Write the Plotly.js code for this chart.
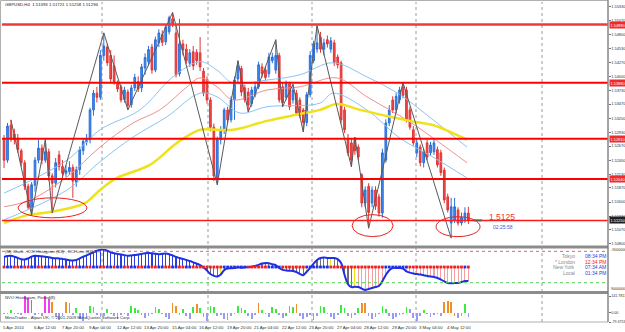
<!DOCTYPE html>
<html><head><meta charset="utf-8">
<script src="https://cdn.plot.ly/plotly-3.0.1.min.js"></script>
<style>html,body{margin:0;padding:0;background:#fff;overflow:hidden}#chart{width:625px;height:332px}</style>
</head><body><div id="chart"></div>
<script>
// ---------------- DATA ----------------
const symbolTitle = "GBPUSD,H4  1.51393 1.51721 1.51258 1.51294";
const barOpen = [1.5279,1.5240,1.5307,1.5290,1.5282,1.5258,1.5235,1.5190,1.5148,1.5192,
1.5240,1.5263,1.5240,1.5256,1.5210,1.5196,1.5250,1.5228,1.5215,1.5218,
1.5226,1.5198,1.5222,1.5258,1.5275,1.5279,1.5336,1.5368,1.5360,1.5440,
1.5456,1.5440,1.5420,1.5387,1.5380,1.5356,1.5370,1.5346,1.5378,1.5390,
1.5378,1.5416,1.5428,1.5456,1.5412,1.5464,1.5480,1.5466,1.5485,1.5510,
1.5483,1.5405,1.5462,1.5452,1.5425,1.5447,1.5446,1.5445,1.5410,1.5393,
1.5355,1.5303,1.5205,1.5279,1.5298,1.5336,1.5317,1.5355,1.5395,1.5415,
1.5378,1.5370,1.5348,1.5365,1.5380,1.5418,1.5412,1.5405,1.5430,1.5412,
1.5440,1.5380,1.5360,1.5386,1.5355,1.5368,1.5355,1.5336,1.5312,1.5365,
1.5430,1.5452,1.5475,1.5452,1.5470,1.5452,1.5464,1.5437,1.5426,1.5336,
1.5279,1.5273,1.5279,1.5265,1.5212,1.5158,1.5190,1.5158,1.5183,1.5170,
1.5139,1.5240,1.5311,1.5355,1.5336,1.5355,1.5380,1.5374,1.5336,1.5298,
1.5254,1.5265,1.5235,1.5273,1.5254,1.5256,1.5260,1.5254,1.5221,1.5170,
1.5120,1.5126,1.5145,1.5120,1.5126,1.5139];
const barHigh = [1.5288,1.5311,1.5317,1.5300,1.5290,1.5262,1.5240,1.5195,1.5198,1.5246,
1.5279,1.5270,1.5279,1.5262,1.5215,1.5244,1.5258,1.5240,1.5230,1.5238,
1.5232,1.5228,1.5266,1.5282,1.5290,1.5340,1.5374,1.5380,1.5450,1.5483,
1.5462,1.5450,1.5440,1.5392,1.5385,1.5380,1.5375,1.5384,1.5405,1.5400,
1.5424,1.5444,1.5458,1.5462,1.5476,1.5490,1.5488,1.5500,1.5516,1.5522,
1.5500,1.5510,1.5470,1.5462,1.5452,1.5458,1.5452,1.5475,1.5416,1.5400,
1.5360,1.5310,1.5285,1.5305,1.5340,1.5342,1.5362,1.5400,1.5430,1.5420,
1.5384,1.5378,1.5380,1.5390,1.5428,1.5425,1.5420,1.5445,1.5445,1.5470,
1.5445,1.5387,1.5392,1.5390,1.5385,1.5374,1.5360,1.5340,1.5370,1.5448,
1.5468,1.5497,1.5485,1.5472,1.5478,1.5475,1.5470,1.5442,1.5430,1.5342,
1.5290,1.5280,1.5284,1.5270,1.5215,1.5190,1.5196,1.5190,1.5190,1.5176,
1.5262,1.5318,1.5345,1.5362,1.5368,1.5380,1.5388,1.5380,1.5342,1.5305,
1.5280,1.5270,1.5262,1.5279,1.5275,1.5280,1.5266,1.5260,1.5226,1.5176,
1.5168,1.5168,1.5150,1.5140,1.5150,1.5151];
const barLow = [1.5225,1.5235,1.5275,1.5270,1.5254,1.5228,1.5183,1.5145,1.5135,1.5180,
1.5234,1.5232,1.5235,1.5200,1.5139,1.5188,1.5220,1.5206,1.5208,1.5212,
1.5168,1.5189,1.5212,1.5250,1.5268,1.5272,1.5325,1.5350,1.5355,1.5430,
1.5420,1.5388,1.5384,1.5370,1.5350,1.5350,1.5336,1.5340,1.5372,1.5370,
1.5370,1.5403,1.5420,1.5405,1.5408,1.5456,1.5458,1.5460,1.5480,1.5494,
1.5398,1.5400,1.5440,1.5424,1.5418,1.5412,1.5422,1.5410,1.5362,1.5348,
1.5295,1.5200,1.5193,1.5270,1.5290,1.5310,1.5312,1.5317,1.5388,1.5362,
1.5350,1.5332,1.5342,1.5360,1.5376,1.5398,1.5392,1.5398,1.5425,1.5405,
1.5350,1.5342,1.5355,1.5336,1.5348,1.5325,1.5320,1.5294,1.5305,1.5360,
1.5425,1.5445,1.5445,1.5440,1.5455,1.5445,1.5420,1.5415,1.5310,1.5292,
1.5248,1.5227,1.5250,1.5240,1.5150,1.5150,1.5110,1.5150,1.5145,1.5132,
1.5130,1.5235,1.5305,1.5330,1.5330,1.5348,1.5358,1.5312,1.5298,1.5268,
1.5246,1.5228,1.5226,1.5240,1.5248,1.5250,1.5226,1.5210,1.5158,1.5140,
1.5091,1.5120,1.5115,1.5115,1.5120,1.5118];
const barClose = [1.5240,1.5305,1.5280,1.5279,1.5260,1.5235,1.5190,1.5150,1.5193,1.5240,
1.5263,1.5240,1.5256,1.5210,1.5196,1.5235,1.5228,1.5215,1.5220,1.5226,
1.5200,1.5222,1.5260,1.5276,1.5279,1.5336,1.5368,1.5360,1.5440,1.5458,
1.5426,1.5395,1.5390,1.5376,1.5355,1.5374,1.5345,1.5378,1.5398,1.5376,
1.5418,1.5436,1.5451,1.5412,1.5470,1.5483,1.5465,1.5494,1.5512,1.5500,
1.5403,1.5462,1.5450,1.5430,1.5445,1.5420,1.5430,1.5418,1.5368,1.5355,
1.5303,1.5210,1.5279,1.5298,1.5336,1.5317,1.5355,1.5393,1.5420,1.5370,
1.5355,1.5345,1.5374,1.5380,1.5422,1.5405,1.5398,1.5437,1.5437,1.5440,
1.5355,1.5350,1.5386,1.5342,1.5374,1.5330,1.5325,1.5312,1.5365,1.5440,
1.5462,1.5464,1.5452,1.5464,1.5462,1.5468,1.5426,1.5422,1.5317,1.5298,
1.5254,1.5240,1.5258,1.5246,1.5158,1.5183,1.5140,1.5183,1.5152,1.5139,
1.5254,1.5311,1.5336,1.5336,1.5362,1.5374,1.5364,1.5317,1.5303,1.5273,
1.5273,1.5235,1.5256,1.5246,1.5269,1.5273,1.5231,1.5216,1.5164,1.5145,
1.5151,1.5151,1.5120,1.5131,1.5139,1.5125];

// zigzag vertices (bar index, price)
const zigIdx   = [2,8,12,14,29,36,49,62,68,71,79,81,84,87,91,101,102,106,116,130];
const zigPrice = [1.5317,1.5135,1.5279,1.5139,1.5483,1.5336,1.5522,1.5193,1.5430,1.5332,1.5470,1.5342,1.5385,1.5294,1.5497,1.5227,1.5284,1.5110,1.5388,1.5091];

// moving averages (bar index, price)
const maSlowIdx = [0,6.7,13.4,23.5,27.9,32.8,42.4,50.3,57,62,66.6,76.5,86,91.9,96.8,103.5,110.2,118,124.7,129.7,134.6];
const maSlowVal = [1.5120,1.5135,1.5141,1.5158,1.5183,1.5206,1.5231,1.5273,1.5298,1.5298,1.5298,1.5315,1.5328,1.5336,1.5347,1.5336,1.5326,1.5315,1.5307,1.5294,1.5279];
const maMidIdx = [0,7.6,18.3,27.9,37.5,45.3,53.2,57,61.9,66.6,76.5,86,96.8,105.5,118,126.7,134.6];
const maMidVal = [1.5151,1.5164,1.5208,1.5265,1.5311,1.5336,1.5380,1.5397,1.5380,1.5355,1.5374,1.5380,1.5397,1.5361,1.5313,1.5273,1.5235];
const bandUpIdx = [0,18.3,27.9,39.5,49.1,57,61.9,66.6,76.5,86,95.6,105.5,115.1,123,134.6];
const bandUpVal = [1.5177,1.5240,1.5298,1.5336,1.5399,1.5428,1.5412,1.5387,1.5393,1.5403,1.5426,1.5399,1.5365,1.5326,1.5265];
const bandLoIdx = [0,18.3,27.9,37.5,47.4,57,61.9,68.6,76.5,91.9,95.6,105.5,115.1,124.7,134.6];
const bandLoVal = [1.5126,1.5183,1.5237,1.5284,1.5323,1.5368,1.5361,1.5330,1.5342,1.5349,1.5368,1.5336,1.5282,1.5246,1.5206];

// horizontal levels
const levelPrices = [1.5499,1.5388,1.5281,1.5204];
const levelLabels = ["1.54990","1.53880","1.52810","1.52040"];
const bidPrice = 1.5125;
const bidLabel = "1.51250";

// price axis ticks
const priceTicks = [1.55330,1.55070,1.54800,1.54530,1.54270,1.54000,1.53730,1.53470,1.53200,1.52930,1.52670,1.52400,1.52130,1.51870,1.51600,1.51330,1.51070,1.50800];

// date labels (bar index, text)
const dateIdx = [0,9,17,25,33,41,49,57,65,73,81,89,97,105,113,121,129];
const dateText = ["5 Apr 2010","6 Apr 12:00","7 Apr 20:00","9 Apr 04:00","12 Apr 12:00","13 Apr 20:00","15 Apr 04:00","16 Apr 12:00","19 Apr 20:00","21 Apr 04:00","22 Apr 12:00","23 Apr 20:00","27 Apr 04:00","28 Apr 12:00","29 Apr 20:00","3 May 04:00","4 May 12:00"];

// CCI (63) per bar
const cciVal = [64,70,72,66,58,50,48,55,66,72,70,68,66,62,58,56,55,52,48,44,
42,45,55,66,74,84,96,104,110,112,104,94,88,84,80,76,72,74,76,80,
84,88,90,88,84,82,84,86,82,74,64,58,52,45,38,30,22,12,-4,-22,
-45,-56,-60,-48,-20,-10,-8,-6,-2,-4,-2,0,2,6,14,22,26,24,18,12,
-6,-18,-22,-24,-26,-32,-44,-52,-30,-6,22,45,58,60,58,57,57,50,25,-50,
-110,-128,-126,-128,-138,-146,-140,-134,-128,-121,-90,-51,-20,-6,-6,-6,-10,-28,-36,-42,
-45,-48,-52,-57,-60,-64,-70,-80,-92,-102,-104,-102,-102,-96,-89,-89];
// CCI histogram state per bar: u = up (blue), s = side (grey), d = down (pink), h = highlight (yellow)
const cciState = "uuuuuuuuuuuuuuuuuuuuuuuuuuuuuuuuuuuuuuuuuuuuuuuuuuuuuuuuusssssshsssssssssssssssssssssssshsssssshsssssshdddddddddddddddddddddddddddddddddd";
// trend dots on the zero line: 1 = blue, 0 = red
const trendDot = "0110010011001100110100110011001101100110011001100110011000000000111111100000011110000000111111100000000000000001111111000000000000000010";

// NVO histogram (8) per bar
const nvoVal = [-15,-10,20,-12,-8,-18,141,125,110,-20,-10,-25,141,120,90,-40,-60,-30,95,80,
-20,40,-50,-70,-45,60,45,-20,-35,-25,30,-15,-30,-50,-20,-10,-25,55,40,25,
-20,-45,-30,-15,50,35,-10,-40,-55,80,55,-20,30,-30,-50,45,75,40,-40,-70,
60,45,-30,-20,-55,-60,-25,-15,55,40,25,-30,-50,-20,80,25,-15,-40,50,30,
-20,-45,-30,55,45,75,-30,-55,-40,-20,-60,-30,60,45,-15,-35,-50,-20,65,40,
-30,-45,-20,40,85,80,-25,-50,-40,-15,60,35,-30,-50,-35,-20,-10,50,35,-45,
-70,-30,20,-15,-40,-20,-10,-25,95,100,90,-30,-45,-25,70,-40];
// NVO state per bar: m = strong (magenta), o = rising (orange), g = positive, n = negative
const nvoState = "nngnnnmmmnnnmmonnnoongnnnggnnngnnnnnngggnnnnggnnnoongnngognnggnnnnnngggnnnognnggnngggonnnnnnggnnnnggnnngoonnnnggnnnnngnnnngnnnnnoooonngn";

const clockNames = ["Tokyo","* London","New York","Local"];
const clockTimes = ["08:34 PM","12:34 PM","07:34 AM","01:34 PM"];

// ---------------- DRAWING ----------------
const W = 625, H = 332;
const fx = px => px / W, fy = py => 1 - py / H;
const idx = barClose.map((_, i) => i);
const FONT = "Liberation Sans, Arial, sans-serif";
const AX = 3.9; // axis label font size

const traces = [];
traces.push({x: bandUpIdx, y: bandUpVal, type:'scatter', mode:'lines', line:{color:'#8cc3f2', width:1, shape:'spline'}, hoverinfo:'skip'});
traces.push({x: maMidIdx, y: maMidVal, type:'scatter', mode:'lines', line:{color:'#f28f8f', width:1, shape:'spline'}, hoverinfo:'skip'});
traces.push({x: bandLoIdx, y: bandLoVal, type:'scatter', mode:'lines', line:{color:'#8cc3f2', width:1, shape:'spline'}, hoverinfo:'skip'});
traces.push({x: maSlowIdx, y: maSlowVal, type:'scatter', mode:'lines', line:{color:'#efe21a', width:2.5, shape:'spline'}, hoverinfo:'skip'});
traces.push({type:'candlestick', x: idx, open: barOpen, high: barHigh, low: barLow, close: barClose,
  increasing:{line:{color:'#2a6fd8', width:1}, fillcolor:'#3d8df2'},
  decreasing:{line:{color:'#e03434', width:1}, fillcolor:'#f04a4a'},
  whiskerwidth:0, hoverinfo:'skip', xaxis:'x', yaxis:'y'});
traces.push({x: zigIdx, y: zigPrice, type:'scatter', mode:'lines', line:{color:'#5a5a5a', width:1}, hoverinfo:'skip'});

// CCI pane
const cciColorMap = {u:'#2b3fe0', s:'#707070', d:'#f4a0a0', h:'#f2e21a'};
traces.push({type:'bar', x: idx, y: cciVal, width:0.32, marker:{color: cciVal.map((_, i) => cciColorMap[cciState[i]])}, xaxis:'x', yaxis:'y2', hoverinfo:'skip'});
traces.push({x: idx, y: cciVal, type:'scatter', mode:'lines', line:{color:'#1f2fe6', width:2, shape:'spline'}, xaxis:'x', yaxis:'y2', hoverinfo:'skip'});
traces.push({x: idx, y: idx.map(() => 0), type:'scatter', mode:'markers', marker:{symbol:'square', size:2.8, color: idx.map(i => trendDot[i] === '1' ? '#2030e8' : '#f02020')}, xaxis:'x', yaxis:'y2', hoverinfo:'skip'});

// NVO pane
const nvoColorMap = {m:'#f040f0', o:'#f0902a', g:'#3ee83e', n:'#9a9af0'};
traces.push({type:'bar', x: idx, y: nvoVal, width:0.5, marker:{color: nvoVal.map((_, i) => nvoColorMap[nvoState[i]])}, xaxis:'x', yaxis:'y3', hoverinfo:'skip'});

const shapes = [];
const ann = [];
// vertical dotted grid lines
[102,208,312,416,542].forEach(px => shapes.push({type:'line', xref:'paper', yref:'paper', x0:fx(px), x1:fx(px), y0:fy(322), y1:fy(2), line:{color:'#9a9a9a', width:1, dash:'dot'}, layer:'below'}));
// level lines
levelPrices.forEach((p, k) => {
  shapes.push({type:'line', xref:'paper', yref:'y', x0:fx(2), x1:fx(608), y0:p, y1:p, line:{color: k===0 ? '#f03a3a' : '#ff0000', width: k===0 ? 2.5 : 2}});
  ann.push({xref:'paper', yref:'y', x:fx(608.5), y:p, text:levelLabels[k], showarrow:false, xanchor:'left', yanchor:'middle', font:{family:FONT, size:AX, color:'#ffffff'}, bgcolor:'#f02a2a', borderpad:0.5});
});
shapes.push({type:'line', xref:'paper', yref:'y', x0:fx(2), x1:fx(608), y0:bidPrice, y1:bidPrice, line:{color:'#ff1a1a', width:1.5}});
ann.push({xref:'paper', yref:'y', x:fx(608.5), y:bidPrice, text:bidLabel, showarrow:false, xanchor:'left', yanchor:'middle', font:{family:FONT, size:AX, color:'#ffffff'}, bgcolor:'#202020', borderpad:0.5});
// current price marker
shapes.push({type:'line', xref:'x', yref:'y', x0:136.5, x1:139, y0:bidPrice, y1:bidPrice, line:{color:'#606060', width:2}});
// ellipses
shapes.push({type:'circle', xref:'x', yref:'y', x0:4.1, x1:24.1, y0:1.5130, y1:1.5168, line:{color:'#e82020', width:1}});
shapes.push({type:'circle', xref:'x', yref:'y', x0:101.2, x1:113.1, y0:1.5094, y1:1.5136, line:{color:'#e82020', width:1}});
shapes.push({type:'circle', xref:'x', yref:'y', x0:125.6, x1:138.4, y0:1.5094, y1:1.5132, line:{color:'#e82020', width:1}});
// CCI level lines
shapes.push({type:'line', xref:'paper', yref:'y2', x0:fx(2), x1:fx(608), y0:100, y1:100, line:{color:'#f06060', width:1, dash:'dot'}});
shapes.push({type:'line', xref:'paper', yref:'y2', x0:fx(2), x1:fx(608), y0:-100, y1:-100, line:{color:'#50d050', width:1, dash:'dot'}});
// frame / separators
shapes.push({type:'rect', xref:'paper', yref:'paper', x0:fx(0.5), x1:fx(608), y0:fy(322), y1:fy(0.5), line:{color:'#b0b0b0', width:1}});
shapes.push({type:'rect', xref:'paper', yref:'paper', x0:fx(0), x1:fx(608), y0:fy(248.5), y1:fy(245.5), fillcolor:'#8c8c8c', line:{width:0}});
shapes.push({type:'rect', xref:'paper', yref:'paper', x0:fx(0), x1:fx(608), y0:fy(294), y1:fy(291), fillcolor:'#8c8c8c', line:{width:0}});
shapes.push({type:'line', xref:'paper', yref:'paper', x0:fx(608), x1:fx(608), y0:fy(322), y1:fy(0), line:{color:'#707070', width:1}});

// texts
ann.push({xref:'paper', yref:'paper', x:fx(3), y:fy(4), text:symbolTitle, showarrow:false, xanchor:'left', yanchor:'middle', font:{family:FONT, size:4.3, color:'#202020'}});
dateIdx.forEach((d, k) => ann.push({xref:'x', yref:'paper', x:d, y:fy(327.5), text:dateText[k], showarrow:false, xanchor:'left', yanchor:'middle', xshift:-3, font:{family:FONT, size:4.3, color:'#303030'}}));
ann.push({xref:'paper', yref:'paper', x:fx(3), y:fy(251.5), text:"(M) Clock , CCI Histogram (63) , CCI Line (63) 2...", showarrow:false, xanchor:'left', yanchor:'middle', font:{family:FONT, size:4.3, color:'#303030'}});
ann.push({xref:'paper', yref:'paper', x:fx(3), y:fy(297), text:"NVO Histogram, Period(8)", showarrow:false, xanchor:'left', yanchor:'middle', font:{family:FONT, size:4.3, color:'#303030'}});
ann.push({xref:'paper', yref:'paper', x:fx(3), y:fy(317.5), text:"MetaTrader - Alpari UK, \u00a9 2001-2009 MetaQuotes Software Corp.", showarrow:false, xanchor:'left', yanchor:'middle', font:{family:FONT, size:4.3, color:'#303030'}});
clockNames.forEach((n, k) => {
  const py = 256 + k * 5.7;
  ann.push({xref:'paper', yref:'paper', x:fx(577), y:fy(py), text:n, showarrow:false, xanchor:'right', yanchor:'middle', font:{family:FONT, size:5, color:'#8a8a8a'}});
  ann.push({xref:'paper', yref:'paper', x:fx(583), y:fy(py), text:clockTimes[k], showarrow:false, xanchor:'left', yanchor:'middle', font:{family:FONT, size:5, color: k===1 ? '#f02020' : '#2a3ad8'}});
});
ann.push({xref:'x', yref:'y', x:140.5, y:1.5131, text:"1.5125", showarrow:false, xanchor:'left', yanchor:'middle', font:{family:FONT, size:8.5, color:'#f03030'}});
ann.push({xref:'x', yref:'y', x:141.5, y:1.5112, text:"02:25:58", showarrow:false, xanchor:'left', yanchor:'middle', font:{family:FONT, size:5, color:'#4a5ad8'}});
ann.push({xref:'paper', yref:'paper', x:fx(609), y:fy(250.5), text:"-9000000", showarrow:false, xanchor:'left', yanchor:'middle', font:{family:FONT, size:3.6, color:'#303030'}});
ann.push({xref:'paper', yref:'paper', x:fx(609), y:fy(289), text:"9000000", showarrow:false, xanchor:'left', yanchor:'middle', font:{family:FONT, size:3.6, color:'#303030'}});

const layout = {
  width: W, height: H, margin:{l:0, r:0, t:0, b:0}, paper_bgcolor:'#ffffff', plot_bgcolor:'#ffffff',
  showlegend:false, bargap:0, barmode:'overlay', dragmode:false,
  xaxis:{domain:[fx(2), fx(608)], range:[-0.6, 175.6], anchor:'y3', showticklabels:false, showgrid:false, zeroline:false, showline:false, ticks:'', rangeslider:{visible:false}, fixedrange:true},
  yaxis:{domain:[fy(245), fy(2)], range:[1.5078, 1.5542], side:'right', anchor:'x', tickvals: priceTicks, ticktext: priceTicks.map(v => v.toFixed(5)), tickfont:{family:FONT, size:AX, color:'#303030'}, ticks:'outside', ticklen:1.5, tickcolor:'#707070', showgrid:false, zeroline:false, showline:false, fixedrange:true},
  yaxis2:{domain:[fy(291), fy(249)], range:[-153, 115], anchor:'x', showticklabels:false, showgrid:false, zeroline:false, showline:false, fixedrange:true},
  yaxis3:{domain:[fy(322), fy(296)], range:[-79.3753, 141.7813], side:'right', anchor:'x', tickvals:[141.7813, 0, -79.3753], ticktext:["141.7813","0.00","-79.3753"], tickfont:{family:FONT, size:3.6, color:'#303030'}, ticks:'outside', ticklen:1.5, tickcolor:'#707070', showgrid:false, zeroline:false, showline:false, fixedrange:true},
  shapes: shapes, annotations: ann
};
Plotly.newPlot('chart', traces, layout, {staticPlot:true, displayModeBar:false});
</script></body></html>
